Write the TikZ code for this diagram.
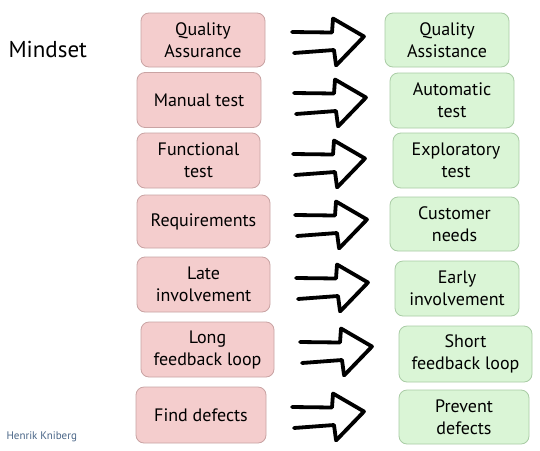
\documentclass[tikz,border=0pt]{standalone}
\usepackage{fontspec}
\setmainfont{PT Sans}
\definecolor{pinkfill}{HTML}{F4CDCD}
\definecolor{pinkline}{HTML}{C9A3A3}
\definecolor{greenfill}{HTML}{DAF5D6}
\definecolor{greenline}{HTML}{A9CCA5}
\definecolor{signcol}{HTML}{4A6688}
\tikzset{
  boxbase/.style={rounded corners=8pt, line width=0.8pt, align=center, inner sep=0pt,
    font=\fontsize{18}{22}\selectfont, text=black},
  oldbox/.style={boxbase, draw=pinkline, fill=pinkfill},
  newbox/.style={boxbase, draw=greenline, fill=greenfill},
  fatarrow/.style={line width=3.8pt, line cap=round, line join=round, black}
}
\newcommand{\handarrow}[2]{%
  \draw[fatarrow] (#1,#2) -- ++(40,0.5) -- ++(1,-14) -- ++(31,18) -- ++(-28,29);
  \draw[fatarrow] (#1+44,#2+33) -- ++(-2,-15) -- ++(-40,3);
}
\begin{document}
\begin{tikzpicture}[x=1pt,y=-1pt]
\useasboundingbox[fill=white] (0,0) rectangle (540,450);
\node[font=\fontsize{23}{26}\selectfont, anchor=west] (mind) at (5,49) {Mindset};
\node[font=\fontsize{11}{13}\selectfont, text=signcol, anchor=west] (sign) at (3,437) {Henrik Kniberg};

\node[oldbox, minimum width=124pt, minimum height=54pt] (l1) at (203,40) {Quality\\Assurance};
\node[oldbox, minimum width=124pt, minimum height=55pt] (l2) at (199,100) {Manual test};
\node[oldbox, minimum width=123pt, minimum height=55pt] (l3) at (198.5,160.5) {Functional\\test};
\node[oldbox, minimum width=133pt, minimum height=53pt] (l4) at (203.5,221.5) {Requirements};
\node[oldbox, minimum width=133pt, minimum height=55pt] (l5) at (203.5,284.5) {Late\\involvement};
\node[oldbox, minimum width=133pt, minimum height=55pt] (l6) at (207.5,349.5) {Long\\feedback loop};
\node[oldbox, minimum width=130pt, minimum height=56pt] (l7) at (201,415) {Find defects};

\node[newbox, minimum width=124pt, minimum height=54pt] (r1) at (447,40) {Quality\\Assistance};
\node[newbox, minimum width=124pt, minimum height=55pt] (r2) at (452,100.5) {Automatic\\test};
\node[newbox, minimum width=126pt, minimum height=55pt] (r3) at (456,160.5) {Exploratory\\test};
\node[newbox, minimum width=129pt, minimum height=54pt] (r4) at (454.5,224) {Customer\\needs};
\node[newbox, minimum width=124pt, minimum height=55pt] (r5) at (457,288.5) {Early\\involvement};
\node[newbox, minimum width=133pt, minimum height=56pt] (r6) at (465.5,354) {Short\\feedback loop};
\node[newbox, minimum width=130pt, minimum height=54pt] (r7) at (464,417) {Prevent\\defects};

\handarrow{292}{32}
\handarrow{294}{93}
\handarrow{293}{154}
\handarrow{295}{215}
\handarrow{296}{278}
\handarrow{300}{342}
\handarrow{292}{407}
\end{tikzpicture}
\end{document}
